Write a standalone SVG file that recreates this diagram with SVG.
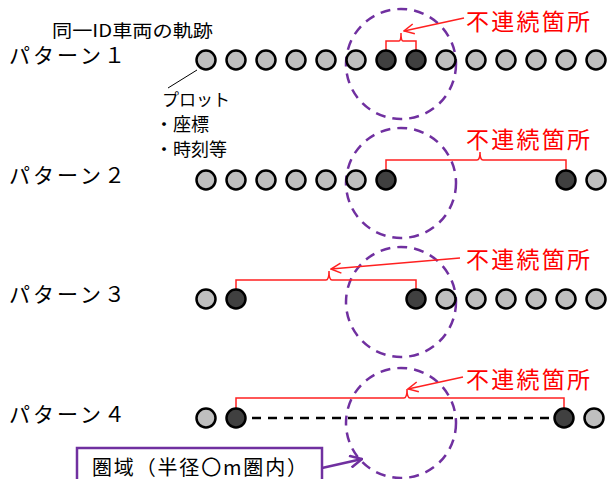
<svg xmlns="http://www.w3.org/2000/svg" width="607" height="479" viewBox="0 0 607 479">
<defs>
<style>
.t{font-family:"Noto Sans CJK JP","Liberation Sans",sans-serif;fill:#000}
.lbl{font-size:21px}
.red{font-family:"Noto Sans CJK JP","Liberation Sans",sans-serif;font-size:23px;fill:#FF0000}
.g{fill:#BFBFBF;stroke:#000;stroke-width:2.5}
.d{fill:#404040;stroke:#000;stroke-width:2.5}
.zone{fill:none;stroke:#7030A0;stroke-width:2.5;stroke-dasharray:10 7}
.br{fill:none;stroke:#FF2020;stroke-width:1.5}
.ar{fill:none;stroke:#FF2020;stroke-width:1.5;marker-end:url(#ah)}
</style>
<marker id="ah" viewBox="0 0 12 12" refX="11" refY="6" markerWidth="12" markerHeight="12" markerUnits="userSpaceOnUse" orient="auto">
<path d="M1,1 L11,6 L1,11" fill="none" stroke="#FF2020" stroke-width="1.5"/>
</marker>
<marker id="ahp" viewBox="0 0 14 14" refX="13" refY="7" markerWidth="14" markerHeight="14" markerUnits="userSpaceOnUse" orient="auto">
<path d="M1,1 L13,7 L1,13" fill="none" stroke="#7030A0" stroke-width="2.5"/>
</marker>
</defs>
<rect width="607" height="479" fill="#fff"/>

<g id="zones">
<circle class="zone" cx="401" cy="64" r="55"/>
<circle class="zone" cx="401" cy="183" r="55"/>
<circle class="zone" cx="401" cy="302" r="55"/>
<circle class="zone" cx="401" cy="423" r="55"/>
</g>

<g id="labels">
<text class="t" x="52" y="37" font-size="17.5" textLength="161" lengthAdjust="spacingAndGlyphs">同一ID車両の軌跡</text>
<text class="t lbl" x="9" y="63" textLength="116">パターン１</text>
<text class="t lbl" x="9" y="183" textLength="116">パターン２</text>
<text class="t lbl" x="9" y="302" textLength="116">パターン３</text>
<text class="t lbl" x="9" y="422" textLength="116">パターン４</text>
<text class="t" x="162" y="106" font-size="17">プロット</text>
<text class="t" x="155" y="131" font-size="18">・座標</text>
<text class="t" x="155" y="156" font-size="18">・時刻等</text>
</g>

<g id="connectors">
<line x1="197" y1="70" x2="168" y2="88" stroke="#000" stroke-width="1"/>
<line x1="236" y1="418" x2="564" y2="418" stroke="#000" stroke-width="2.5" stroke-dasharray="9 7"/>
<path class="br" d="M386,50 V41 H399 Q401,41 401,33 Q401,41 403,41 H416 V50"/>
<path class="br" d="M386,170 V160 H477 Q480,160 480,152 Q480,160 483,160 H566 V170"/>
<path class="br" d="M236,289 V280 H326 Q329,280 329,271 Q329,280 332,280 H416 V289"/>
<path class="br" d="M236,408 V398 H404 Q407,398 407,389 Q407,398 410,398 H564 V408"/>
<line class="ar" x1="464" y1="18" x2="404" y2="31"/>
<line class="ar" x1="460" y1="258" x2="331" y2="269"/>
<line class="ar" x1="463" y1="377" x2="408" y2="389"/>
<line x1="322" y1="468" x2="362" y2="459" stroke="#7030A0" stroke-width="2.5" marker-end="url(#ahp)"/>
</g>

<g id="texts-red">
<text class="red" x="466" y="30" textLength="124">不連続箇所</text>
<text class="red" x="466" y="148" textLength="124">不連続箇所</text>
<text class="red" x="466" y="268" textLength="124">不連続箇所</text>
<text class="red" x="466" y="388" textLength="124">不連続箇所</text>
</g>

<g id="row1">
<circle class="g" cx="206" cy="60" r="9.5"/><circle class="g" cx="236" cy="60" r="9.5"/><circle class="g" cx="266" cy="60" r="9.5"/><circle class="g" cx="296" cy="60" r="9.5"/><circle class="g" cx="326" cy="60" r="9.5"/><circle class="g" cx="356" cy="60" r="9.5"/><circle class="d" cx="386" cy="60" r="9.5"/><circle class="d" cx="416" cy="60" r="9.5"/><circle class="g" cx="446" cy="60" r="9.5"/><circle class="g" cx="476" cy="60" r="9.5"/><circle class="g" cx="506" cy="60" r="9.5"/><circle class="g" cx="536" cy="60" r="9.5"/><circle class="g" cx="566" cy="60" r="9.5"/><circle class="g" cx="596" cy="60" r="9.5"/>
</g>
<g id="row2">
<circle class="g" cx="206" cy="180" r="9.5"/><circle class="g" cx="236" cy="180" r="9.5"/><circle class="g" cx="266" cy="180" r="9.5"/><circle class="g" cx="296" cy="180" r="9.5"/><circle class="g" cx="326" cy="180" r="9.5"/><circle class="g" cx="356" cy="180" r="9.5"/><circle class="d" cx="386" cy="180" r="9.5"/><circle class="d" cx="566" cy="180" r="9.5"/><circle class="g" cx="596" cy="180" r="9.5"/>
</g>
<g id="row3">
<circle class="g" cx="206" cy="299" r="9.5"/><circle class="d" cx="236" cy="299" r="9.5"/><circle class="d" cx="416" cy="299" r="9.5"/><circle class="g" cx="446" cy="299" r="9.5"/><circle class="g" cx="476" cy="299" r="9.5"/><circle class="g" cx="506" cy="299" r="9.5"/><circle class="g" cx="536" cy="299" r="9.5"/><circle class="g" cx="566" cy="299" r="9.5"/><circle class="g" cx="596" cy="299" r="9.5"/>
</g>
<g id="row4">
<circle class="g" cx="206" cy="418" r="9.5"/><circle class="d" cx="236" cy="418" r="9.5"/><circle class="d" cx="564" cy="418" r="9.5"/><circle class="g" cx="594" cy="418" r="9.5"/>
</g>

<g id="zone-box">
<rect x="77" y="448" width="245" height="45" fill="#fff" stroke="#7030A0" stroke-width="2.5"/>
<text class="t" x="92" y="475" font-size="20" textLength="215">圏域（半径〇m圏内）</text>
</g>
</svg>
